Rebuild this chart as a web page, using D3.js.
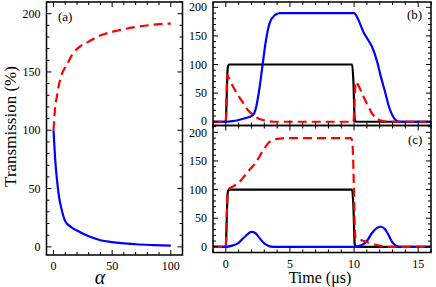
<!DOCTYPE html>
<html>
<head>
<meta charset="utf-8">
<script src="https://cdn.jsdelivr.net/npm/d3@7"></script>
<style>
  body { margin: 0; background: #fff; }
  svg text { font-family: "Liberation Serif", Tinos, "Times New Roman", "DejaVu Serif", serif; }
</style>
</head>
<body>
<svg id="chart" width="436" height="287"></svg>
<script>
// ---- data ----
// panel (a): transmission vs alpha
const aBlue = [[0,100],[1,82],[1.5,74],[3,57],[5,41],[6,36],[8.5,26],[10,22],[15,17],[20,14],[30,9],[40,5.7],[50,4],[70,2.2],[85,1.5],[100,1]];
const aRed = [[0,100],[0.5,108],[1.4,120],[2.9,129],[4.2,137],[7,148],[11.3,156],[16,165],[22.7,172],[30,176],[36.9,180],[52.4,185],[70,188.5],[90.6,191],[100,191.5]];

// panels (b) and (c): transmission vs time (us)
const inputPulse = [[-1,0],[0,0],[0.05,30],[0.15,95],[0.25,100],[9.85,100],[9.95,70],[10.05,5],[10.15,0],[16,0]];
const bBlue = [[-1,0],[0,0],[0.5,1],[1,3],[1.5,6],[2.13,12],[2.35,24],[2.6,55],[2.87,100],[3.1,138],[3.4,171],[3.8,186],[4.2,190],[10,190],[10.3,180],[10.73,157],[11.1,143],[11.4,131],[11.8,105],[12.1,78],[12.45,49.5],[12.7,28],[12.97,12],[13.2,4],[13.4,0.5],[13.6,0],[16,0]];
const bRed = [[-1,0],[0,0],[0.05,40],[0.1,82],[0.2,78],[0.57,61],[1,45],[1.35,33],[1.7,21],[2.13,12],[2.5,6],[2.9,3],[3.3,1],[3.7,0],[9.95,0],[10.05,40],[10.12,70],[10.3,65],[10.73,44],[11.1,27],[11.4,14.5],[11.7,7],[11.97,3],[12.4,0.5],[12.8,0],[16,0]];
const cBlue = [[-1,0],[0,0],[0.5,2],[1,7],[1.5,18],[2,26],[2.3,24],[2.6,16],[3,6],[3.3,2],[3.7,0],[10,0],[10.5,2],[11,10],[11.4,24],[11.8,33],[12.1,35],[12.4,31],[12.7,20],[12.95,9],[13.2,3],[13.5,0],[16,0]];
const cRed = [[-1,0],[0,0],[0.05,40],[0.15,95],[0.25,101],[0.6,106],[1.1,114],[1.5,125],[1.9,136],[2.3,146],[2.6,157],[2.9,168],[3.3,181],[3.6,186],[4,188.5],[4.4,189.5],[5,190],[9.75,190],[9.85,186],[9.92,160],[9.98,110],[10.05,40],[10.12,14],[10.3,13],[10.5,12],[10.9,9],[11.3,6],[11.8,3],[12.2,1],[12.6,0],[16,0]];

const yTicks = [0, 50, 100, 150, 200];
const alphaTicks = [0, 50, 100];
const timeTicks = [0, 5, 10, 15];

const svg = d3.select("#chart");

// draws one framed panel with inward ticks on all four sides
function drawPanel(box, xDom, yDom, xMajor, xStep, showXLabels, series, tag) {
  const g = svg.append("g");
  const x = d3.scaleLinear().domain(xDom).range([box.x0, box.x1]);
  const y = d3.scaleLinear().domain(yDom).range([box.y1, box.y0]);

  const clipId = "clip-" + tag;
  svg.append("clipPath").attr("id", clipId)
    .append("rect")
    .attr("x", box.x0).attr("y", box.y0)
    .attr("width", box.x1 - box.x0).attr("height", box.y1 - box.y0);

  const line = d3.line()
    .x(d => x(d[0]))
    .y(d => y(d[1]))
    .curve(d3.curveMonotoneX);

  const plot = g.append("g").attr("clip-path", "url(#" + clipId + ")");
  series.forEach(s => {
    plot.append("path")
      .attr("d", line(s.data))
      .attr("fill", "none")
      .attr("stroke", s.color)
      .attr("stroke-width", 2.2)
      .attr("stroke-dasharray", s.dash || null);
  });

  // ticks
  const xMinor = d3.range(Math.ceil(xDom[0] / xStep) * xStep, xDom[1] + 1e-9, xStep);
  const yMinor = d3.range(0, yDom[1] + 1e-9, 10);
  const ticks = g.append("g").attr("stroke", "#000").attr("stroke-width", 1);
  xMinor.forEach(v => {
    const len = xMajor.some(m => Math.abs(m - v) < 1e-9) ? 5 : 3;
    ticks.append("line").attr("x1", x(v)).attr("x2", x(v)).attr("y1", box.y1).attr("y2", box.y1 - len);
    ticks.append("line").attr("x1", x(v)).attr("x2", x(v)).attr("y1", box.y0).attr("y2", box.y0 + len);
  });
  yMinor.forEach(v => {
    const len = yTicks.includes(v) ? 5 : 3;
    ticks.append("line").attr("y1", y(v)).attr("y2", y(v)).attr("x1", box.x0).attr("x2", box.x0 + len);
    ticks.append("line").attr("y1", y(v)).attr("y2", y(v)).attr("x1", box.x1).attr("x2", box.x1 - len);
  });

  g.append("rect")
    .attr("x", box.x0).attr("y", box.y0)
    .attr("width", box.x1 - box.x0).attr("height", box.y1 - box.y0)
    .attr("fill", "none").attr("stroke", "#000").attr("stroke-width", 1.5);

  yTicks.forEach(v => {
    // nudge the labels that sit next to the shared b/c border apart a little
    let nudge = 0;
    if (tag === "b" && v === 0) nudge = -1;
    if (tag === "c" && v === 200) nudge = 1;
    g.append("text")
      .attr("x", box.x0 - 6).attr("y", y(v) + 4 + nudge)
      .attr("text-anchor", "end").attr("font-size", 12)
      .text(v);
  });
  if (showXLabels) {
    xMajor.forEach(v => {
      g.append("text")
        .attr("x", x(v)).attr("y", box.y1 + 15)
        .attr("text-anchor", "middle").attr("font-size", 12)
        .text(v);
    });
  }
  return g;
}

const pa = drawPanel({x0: 46.5, x1: 182.5, y0: 2, y1: 255}, [-6, 110], [-7, 210], alphaTicks, 10, true,
  [{data: aBlue, color: "#0000ff"}, {data: aRed, color: "#ff0000", dash: "9,5"}], "a");
const pb = drawPanel({x0: 213, x1: 431, y0: 2, y1: 125.5}, [-1, 16], [-6.6, 209.3], timeTicks, 1, false,
  [{data: inputPulse, color: "#000"}, {data: bBlue, color: "#0000ff"}, {data: bRed, color: "#ff0000", dash: "9,5"}], "b");
const pc = drawPanel({x0: 213, x1: 431, y0: 125.5, y1: 252.5}, [-1, 16], [-10, 212], timeTicks, 1, true,
  [{data: inputPulse, color: "#000"}, {data: cBlue, color: "#0000ff"}, {data: cRed, color: "#ff0000", dash: "9,5"}], "c");

// panel tags
svg.append("text").attr("x", 58).attr("y", 21).attr("font-size", 13).text("(a)");
svg.append("text").attr("x", 407).attr("y", 19).attr("font-size", 13).text("(b)");
svg.append("text").attr("x", 408).attr("y", 144).attr("font-size", 13).text("(c)");

// axis titles
svg.append("text")
  .attr("transform", "translate(16,126.5) rotate(-90)")
  .attr("text-anchor", "middle").attr("font-size", 17)
  .text("Transmission (%)");
svg.append("text")
  .attr("x", 100).attr("y", 284)
  .attr("text-anchor", "middle").attr("font-size", 20).attr("font-style", "italic")
  .text("α");
svg.append("text")
  .attr("x", 320).attr("y", 283)
  .attr("text-anchor", "middle").attr("font-size", 16)
  .text("Time (μs)");
</script>
</body>
</html>
